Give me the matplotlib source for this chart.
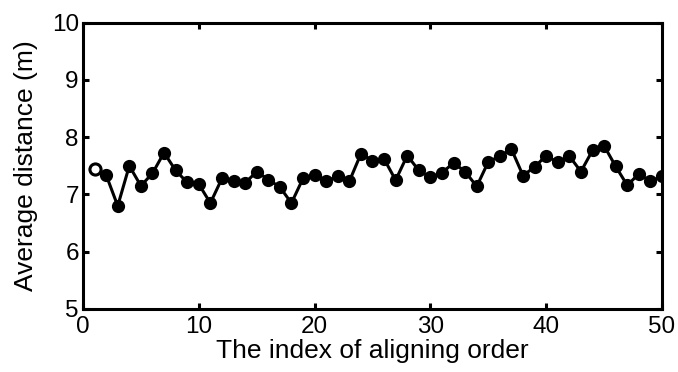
import numpy as np
import matplotlib
matplotlib.use("Agg")
import matplotlib.pyplot as plt

plt.rcParams["font.family"] = ["Liberation Sans", "DejaVu Sans"]

# average distance per aligning order index
order_idx = np.arange(1, 51)
avg_dist = [7.45, 7.34, 6.80, 7.50, 7.15, 7.37, 7.73, 7.42, 7.21, 7.18,
            6.85, 7.28, 7.24, 7.20, 7.40, 7.26, 7.13, 6.85, 7.28, 7.34,
            7.23, 7.32, 7.23, 7.71, 7.59, 7.62, 7.25, 7.68, 7.42, 7.30,
            7.38, 7.55, 7.40, 7.14, 7.57, 7.67, 7.79, 7.33, 7.48, 7.68,
            7.56, 7.67, 7.40, 7.77, 7.85, 7.49, 7.16, 7.36, 7.23, 7.32]

x_ticks = [0, 10, 20, 30, 40, 50]
y_ticks = [5, 6, 7, 8, 9, 10]

fig = plt.figure(figsize=(6.78, 3.72), dpi=100)
ax = fig.add_axes([0.1224, 0.1694, 0.8540, 0.7696])

ax.plot(order_idx, avg_dist, color="black", lw=2.2, marker="o",
        ms=8, mfc="black", mec="black", mew=1.5, zorder=2)
# first sample drawn as an open circle
ax.plot(order_idx[:1], avg_dist[:1], ls="none", marker="o", ms=8,
        mfc="white", mec="black", mew=2.2, zorder=3)

ax.set_xlim(0, 50)
ax.set_ylim(5, 10)
ax.set_xticks(x_ticks)
ax.set_yticks(y_ticks)

for s in ax.spines.values():
    s.set_linewidth(2.2)

ax.tick_params(direction="in", length=4, width=2.2, top=True, right=True,
               labelsize=17.5)
ax.tick_params(axis="x", pad=5)
ax.tick_params(axis="y", pad=3)

ax.set_xlabel("The index of aligning order", fontsize=19, labelpad=1)
ax.set_ylabel("Average distance (m)", fontsize=19, labelpad=10)

fig.savefig("out.png", dpi=100)
